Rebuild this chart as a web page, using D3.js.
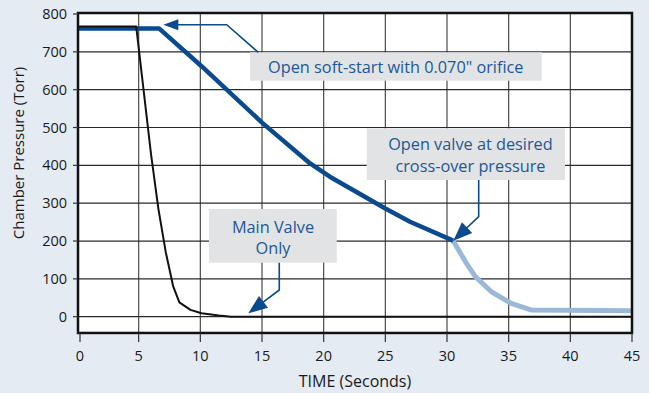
<!DOCTYPE html>
<html><head><meta charset="utf-8">
<script src="https://cdn.jsdelivr.net/npm/d3@7"></script>
<style>body{margin:0;background:#e4ebf3;}svg{display:block;}</style>
</head><body>
<script>
// ---- data ----
const xTicks = [0,5,10,15,20,25,30,35,40,45];
const yTicks = [0,100,200,300,400,500,600,700,800];
const mainValveTime  = [0, 4.8, 6.0, 6.6, 7.2, 7.8, 8.3, 9.2, 10.1, 11.5, 12.5, 45];
const mainValveTorr  = [767, 767, 430, 285, 170, 80, 38, 18, 9, 3, 0, 0];
const softStartTime  = [0, 6.65, 10.1, 15.0, 18.9, 20.5, 25.0, 27.0, 30.5];
const softStartTorr  = [762, 762, 662, 513, 405, 370, 286, 251, 201];
const crossOverTime  = [30.5, 31.5, 32.3, 33.6, 35.2, 36.8, 45];
const crossOverTorr  = [201, 145, 106, 66, 35, 18, 16];
const xTitle = "TIME (Seconds)";
const yTitle = "Chamber Pressure (Torr)";
const notes = [
  {lines:["Open soft-start with 0.070\" orifice"], box:[14.03,37.68,698.7,623.7], tx:25.85, ty:[645],
   arrow:[[14.70,698.7],[12.14,771.7],[7.0,771.7]]},
  {lines:["Open valve at desired","cross-over pressure"], box:[23.49,39.57,497.9,361.3], tx:31.9, ty:[440.5,383.7],
   arrow:[[32.57,361.3],[32.57,264.3],[30.51,200.8]]},
  {lines:["Main Valve","Only"], box:[10.70,21.06,284.6,142.7], tx:15.89, ty:[220.4,165.7],
   arrow:[[16.40,142.7],[16.40,70.6],[13.89,9]]}
];

const W=649,H=393;
const svg=d3.select("body").append("svg").attr("width",W).attr("height",H);
svg.append("rect").attr("width",W).attr("height",H).attr("fill","#e4ebf3");
const x=d3.scaleLinear().domain([0,45]).range([77,632]);
const y=d3.scaleLinear().domain([0,800]).range([316.7,14]);
const font="'Open Sans', sans-serif";
const fl=78, fr=x(45), ft=13, fb=y(-43);

svg.append("rect").attr("x",fl).attr("y",ft).attr("width",fr-fl).attr("height",fb-ft).attr("fill","#fff");
// grid
svg.append("g").selectAll("line").data(xTicks.slice(1,-1)).join("line")
  .attr("x1",d=>x(d)).attr("x2",d=>x(d)).attr("y1",ft).attr("y2",fb)
  .attr("stroke","#4a4a4a").attr("stroke-width",1.2);
svg.append("g").selectAll("line").data(yTicks.slice(0,-1)).join("line")
  .attr("x1",fl).attr("x2",fr).attr("y1",d=>y(d)).attr("y2",d=>y(d))
  .attr("stroke","#2a2a2a").attr("stroke-width",1.2);

const line=d3.line().x(d=>x(d[0])).y(d=>y(d[1]));
const zip=(a,b)=>a.map((v,i)=>[v,b[i]]);
svg.append("path").attr("d",line(zip(crossOverTime,crossOverTorr))).attr("fill","none")
  .attr("stroke","#9bb9d7").attr("stroke-width",5).attr("stroke-linejoin","round");
svg.append("path").attr("d",line(zip(softStartTime,softStartTorr))).attr("fill","none")
  .attr("stroke","#0b4b8d").attr("stroke-width",4.5).attr("stroke-linejoin","round");
svg.append("path").attr("d",line(zip(mainValveTime,mainValveTorr))).attr("fill","none")
  .attr("stroke","#111").attr("stroke-width",2).attr("stroke-linejoin","round");

// frame
svg.append("rect").attr("x",fl).attr("y",ft).attr("width",fr-fl).attr("height",fb-ft)
  .attr("fill","none").attr("stroke","#111").attr("stroke-width",2.5);
// ticks
svg.append("g").selectAll("line").data(xTicks).join("line")
  .attr("x1",d=>x(d)+(d===0?3:0)).attr("x2",d=>x(d)+(d===0?3:0)).attr("y1",fb).attr("y2",fb+9)
  .attr("stroke","#333").attr("stroke-width",1.2);
svg.append("g").selectAll("line").data(yTicks).join("line")
  .attr("x1",fl-5).attr("x2",fl).attr("y1",d=>y(d)).attr("y2",d=>y(d))
  .attr("stroke","#333").attr("stroke-width",1.2);
svg.append("g").selectAll("text").data(xTicks).join("text")
  .attr("x",d=>x(d)+(d===0?3:0)).attr("y",361).attr("text-anchor","middle")
  .attr("font-family",font).attr("font-size",14.5).attr("fill","#1a1a1a").text(d=>d);
svg.append("g").selectAll("text").data(yTicks).join("text")
  .attr("x",67).attr("y",d=>y(d)+5).attr("text-anchor","end")
  .attr("font-family",font).attr("font-size",14.5).attr("fill","#1a1a1a").text(d=>d);
svg.append("text").attr("x",355).attr("y",386.5).attr("text-anchor","middle")
  .attr("font-family",font).attr("font-size",16).attr("fill","#1a1a1a").text(xTitle);
svg.append("text").attr("transform","translate(23.5,153) rotate(-90)").attr("text-anchor","middle")
  .attr("font-family",font).attr("font-size",15).attr("fill","#1a1a1a").text(yTitle);

// annotations
const blue="#0b4b8d";
notes.forEach(n=>{
  const g=svg.append("g");
  g.append("rect").attr("x",x(n.box[0])).attr("y",y(n.box[2]))
    .attr("width",x(n.box[1])-x(n.box[0])).attr("height",y(n.box[3])-y(n.box[2])).attr("fill","#e1e3e4");
  n.lines.forEach((t,i)=>g.append("text").attr("x",x(n.tx)).attr("y",y(n.ty[i]))
    .attr("text-anchor","middle").attr("font-family",font).attr("font-size",16.3).attr("fill","#1d5896").text(t));
  const pts=n.arrow.map(p=>[x(p[0]),y(p[1])]);
  const a=pts[pts.length-2], b=pts[pts.length-1];
  const dx=b[0]-a[0], dy=b[1]-a[1], L=Math.hypot(dx,dy), ux=dx/L, uy=dy/L;
  const big = n.lines.length>1;
  const len = big?19:15, hw = big?7.5:5.5;
  const base=[b[0]-ux*len,b[1]-uy*len];
  const shaft=pts.slice(0,-1).concat([[b[0]-ux*(len-2),b[1]-uy*(len-2)]]);
  g.append("path").attr("d",d3.line()(shaft)).attr("fill","none").attr("stroke",blue).attr("stroke-width",1.6);
  g.append("path").attr("d",d3.line()([b,[base[0]-uy*hw,base[1]+ux*hw],[base[0]+uy*hw,base[1]-ux*hw]])+"Z")
    .attr("fill",blue);
});
</script>
</body></html>
